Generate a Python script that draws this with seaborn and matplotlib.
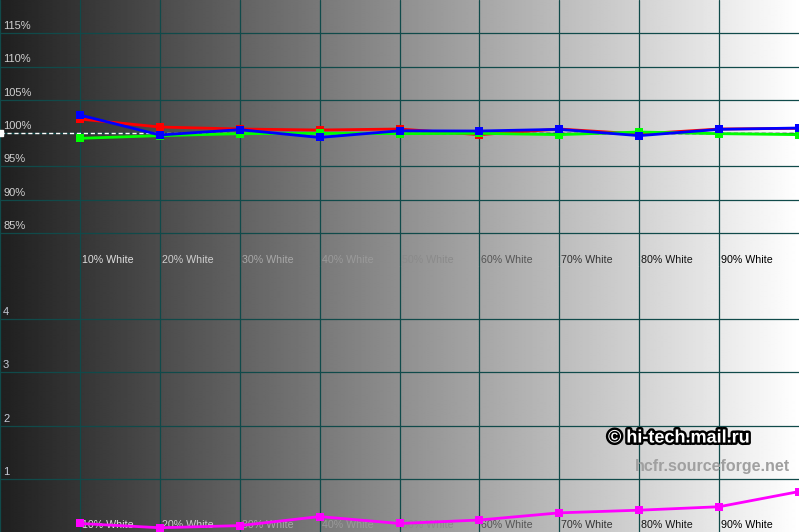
import numpy as np
import pandas as pd
import matplotlib
matplotlib.use("Agg")
import matplotlib.pyplot as plt
import matplotlib.transforms as mtransforms
import matplotlib.patheffects as pe
import seaborn as sns

sns.set_theme(style="white")
plt.rcParams['font.family'] = ['Liberation Sans', 'DejaVu Sans']

# ---------------- data ----------------
levels = [10, 20, 30, 40, 50, 60, 70, 80, 90, 100]
level_labels = ["10% White", "20% White", "30% White", "40% White", "50% White",
                "60% White", "70% White", "80% White", "90% White"]
red = [102.1, 100.9, 100.6, 100.45, 100.6, 99.75, 100.6, 99.85, 100.6, 100.7]
green = [99.2, 99.6, 99.9, 99.95, 99.9, 99.95, 99.75, 100.15, 99.9, 99.75]
blue = [102.7, 99.7, 100.5, 99.33, 100.33, 100.3, 100.55, 99.6, 100.55, 100.75]
delta_e = [0.16, 0.08, 0.12, 0.29, 0.16, 0.225, 0.36, 0.41, 0.475, 0.76]
pct_ticks = [85, 90, 95, 100, 105, 110, 115]
pct_tick_labels = ["85%", "90%", "95%", "100%", "105%", "110%", "115%"]
de_ticks = [1, 2, 3, 4]
de_tick_labels = ["1", "2", "3", "4"]

# ---------------- styling ----------------
grid_c = "#104a4a"
label_colors = ["#e0e0e0", "#d0d0d0", "#a8a8a8", "#9a9a9a", "#8a8a8a",
                "#555555", "#333333", "#151515", "#000000"]

fig = plt.figure(figsize=(7.99, 5.32), dpi=100)

# background gradient
bg = fig.add_axes([0, 0, 1, 1])
grad = np.linspace(31, 255, 800)[None, :] / 255.0
bg.imshow(np.repeat(grad, 2, axis=0), cmap="gray", vmin=0, vmax=1,
          aspect="auto", extent=[0, 1, 0, 1], interpolation="bilinear")
bg.set_axis_off()
bg.set_zorder(0)

ax1 = fig.add_axes([0, 0.5, 1, 0.5])
ax2 = fig.add_axes([0, 0.0, 1, 0.5])
for ax in (ax1, ax2):
    ax.set_facecolor("none")
    ax.set_zorder(1)
    for s in ax.spines.values():
        s.set_visible(False)
    ax.set_xlim(0, 100)
    ax.set_xticks([])
    ax.set_yticks([])
    for x in range(0, 100, 10):
        ax.axvline(x, color=grid_c, lw=0.9, zorder=1)

ax1.set_ylim(80, 120)
ax2.set_ylim(0, 5)

for v in pct_ticks:
    ax1.axhline(v, color=grid_c, lw=0.9, zorder=1)
for v in de_ticks:
    ax2.axhline(v, color=grid_c, lw=0.9, zorder=1)

tr1 = mtransforms.blended_transform_factory(ax1.transAxes, ax1.transData)
tr2 = mtransforms.blended_transform_factory(ax2.transAxes, ax2.transData)
for v, lab in zip(pct_ticks, pct_tick_labels):
    ax1.annotate(lab, xy=(0, v), xycoords=tr1, xytext=(3, 2),
                 textcoords="offset pixels", va="bottom", ha="left",
                 fontsize=8, color="#d0d0d0", zorder=2)
for v, lab in zip(de_ticks, de_tick_labels):
    ax2.annotate(lab, xy=(0, v), xycoords=tr2, xytext=(3, 2),
                 textcoords="offset pixels", va="bottom", ha="left",
                 fontsize=8, color="#c8ccd8", zorder=2)

# column labels
trx1 = mtransforms.blended_transform_factory(ax1.transData, ax1.transAxes)
trx2 = mtransforms.blended_transform_factory(ax2.transData, ax2.transAxes)
for x, lab, c in zip(levels[:-1], level_labels, label_colors):
    ax1.annotate(lab, xy=(x, 0), xycoords=trx1, xytext=(2, 6),
                 textcoords="offset pixels", va="center", ha="left",
                 fontsize=7.7, color=c, zorder=2)
    ax2.annotate(lab, xy=(x, 0), xycoords=trx2, xytext=(2, 7),
                 textcoords="offset pixels", va="center", ha="left",
                 fontsize=7.7, color=c, zorder=2)

# reference 100% dashed line
ax1.plot([0, 50], [100, 100], color="white", lw=1, ls=(0, (3, 2)), zorder=2)
ax1.plot([50, 100], [100, 100], color="black", lw=1, ls=(0, (3, 2)), zorder=2)
ax1.plot([0], [100], marker="s", color="white", markersize=5, zorder=3, clip_on=True)

# RGB levels
df = pd.DataFrame({
    "level": levels * 3,
    "value": red + green + blue,
    "channel": ["R"] * len(levels) + ["G"] * len(levels) + ["B"] * len(levels),
})
sns.lineplot(data=df, x="level", y="value", hue="channel", hue_order=["R", "G", "B"],
             palette={"R": "#ff0000", "G": "#00ff00", "B": "#0000ff"},
             marker="s", markersize=6, markeredgewidth=0, linewidth=2,
             legend=False, ax=ax1, zorder=4)

# delta E
df2 = pd.DataFrame({"level": levels, "dE": delta_e})
sns.lineplot(data=df2, x="level", y="dE", color="#ff00ff", marker="s",
             markersize=6, markeredgewidth=0, linewidth=2, legend=False,
             ax=ax2, zorder=4)

for ax in (ax1, ax2):
    ax.set_xlabel("")
    ax.set_ylabel("")
    ax.set_xlim(0, 100)
ax1.set_ylim(80, 120)
ax2.set_ylim(0, 5)

# watermarks
fig.text(608 / 799, 1 - 438 / 532, "\u00a9 hi-tech.mail.ru", fontsize=13,
         fontweight="bold", color="white", va="center", ha="left", zorder=10,
         path_effects=[pe.Stroke(linewidth=3.5, foreground="black"), pe.Normal()])
fig.text(635 / 799, 1 - 466 / 532, "hcfr.sourceforge.net", fontsize=11.5,
         fontweight="bold", color="#a0a0a0", va="center", ha="left", zorder=10)

fig.savefig("out.png", dpi=100)
